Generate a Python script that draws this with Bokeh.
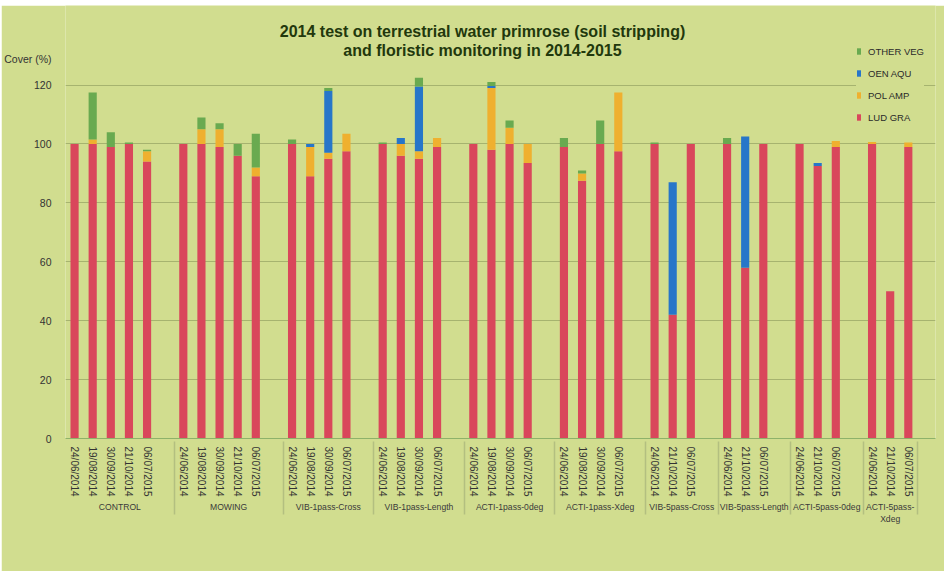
from bokeh.plotting import figure
from bokeh.models import (FactorRange, Range1d, FixedTicker, Legend, LegendItem,
                          Label, ColumnDataSource)
from bokeh.embed import file_html
from bokeh.resources import INLINE

# ---------------- data ----------------
groups = ["CONTROL", "MOWING", "VIB-1pass-Cross", "VIB-1pass-Length",
          "ACTI-1pass-0deg", "ACTI-1pass-Xdeg", "VIB-5pass-Cross",
          "VIB-5pass-Length", "ACTI-5pass-0deg", "ACTI-5pass-\nXdeg"]
dates5 = ["24/06/2014", "19/08/2014", "30/09/2014", "21/10/2014", "06/07/2015"]
dates4 = ["24/06/2014", "19/08/2014", "30/09/2014", "06/07/2015"]
dates3 = ["24/06/2014", "21/10/2014", "06/07/2015"]
group_dates = [dates5, dates5, dates4, dates4, dates4, dates4,
               dates3, dates3, dates3, dates3]

lud_gra = [100, 100, 99, 100, 94,
           100, 100, 99, 96, 89,
           100, 89, 95, 97.5,
           100, 96, 95, 99,
           100, 98, 100, 93.5,
           99, 87.5, 100, 97.5,
           100, 42, 100,
           100, 58, 100,
           100, 92.5, 99,
           100, 50, 99]
pol_amp = [0, 1.5, 0, 0, 3.5,
           0, 5, 6, 0, 3,
           0, 10, 2, 6,
           0, 4, 2.5, 3,
           0, 21, 5.5, 6.5,
           0, 2.5, 0, 20,
           0, 0, 0,
           0, 0, 0,
           0, 0, 2,
           0.7, 0, 1.5]
oen_aqu = [0, 0, 0, 0, 0,
           0, 0, 0, 0, 0,
           0, 1, 21, 0,
           0, 2, 22, 0,
           0, 0.7, 0, 0,
           0, 0, 0, 0,
           0, 45, 0,
           0, 44.5, 0,
           0, 1, 0,
           0, 0, 0]
other_veg = [0, 16, 5, 0.5, 0.5,
             0, 4, 2, 4, 11.5,
             1.5, 0, 1, 0,
             0.5, 0, 3, 0,
             0, 1.3, 2.5, 0,
             3, 1, 8, 0,
             0.5, 0, 0,
             2, 0, 0,
             0, 0, 0,
             0, 0, 0]
y_ticks = [0, 20, 40, 60, 80, 100, 120]
y_title = "Cover (%)"
y_title_pos = 129
series_names = ["LUD GRA", "POL AMP", "OEN AQU", "OTHER VEG"]
title_lines = ["2014 test on terrestrial water primrose (soil stripping)",
               "and floristic monitoring in 2014-2015"]

# ---------------- build factors ----------------
bar_x = []
factors = []
for gi, (g, ds) in enumerate(zip(groups, group_dates)):
    for d in ds:
        bar_x.append((g, d))
        factors.append((g, d))
    if gi < len(groups) - 1:
        factors.append((g, ""))   # empty slot after each group
factors.append(("", ""))          # closing slot (gives the end separator)

source = ColumnDataSource(dict(x=bar_x, lud=lud_gra, pol=pol_amp,
                               oen=oen_aqu, oth=other_veg))

BG = "#d1dd8f"
RED = "#d9475b"
YEL = "#efb02f"
BLUE = "#2776c9"
GREEN = "#69aa50"
FONT = "Liberation Sans"

p = figure(x_range=FactorRange(*factors, group_padding=0, subgroup_padding=0,
                               factor_padding=0, range_padding=0),
           y_range=Range1d(0, 147.0),
           width=943, height=566, output_backend="svg", toolbar_location=None,
           title=None, min_border_left=64, min_border_right=9,
           min_border_top=0, min_border_bottom=133)
p.margin = (5, 0, 0, 1)
p.background_fill_color = BG
p.border_fill_color = BG
p.outline_line_color = None

rs = p.vbar_stack(["lud", "pol", "oen", "oth"], x="x", width=0.45,
                  color=[RED, YEL, BLUE, GREEN], line_color=None, source=source)

# axes / grid
p.xgrid.grid_line_color = None
p.ygrid.ticker = FixedTicker(ticks=y_ticks)
p.ygrid.grid_line_color = "#a6b36f"
p.ygrid.grid_line_width = 1
p.yaxis.ticker = FixedTicker(ticks=y_ticks + [y_title_pos])
p.yaxis.major_label_overrides = {y_title_pos: y_title}
p.yaxis.axis_line_color = None
p.yaxis.major_tick_line_color = None
p.yaxis.minor_tick_line_color = None
p.yaxis.major_label_standoff = 8
p.yaxis.major_label_text_font = FONT
p.yaxis.major_label_text_font_size = "10.5px"
p.yaxis.major_label_text_color = "#333333"

xa = p.xaxis[0]
xa.major_label_orientation = "vertical"
xa.major_label_standoff = 2
xa.major_label_text_font = FONT
xa.major_label_text_font_size = "10px"
xa.major_label_text_color = "#333333"
xa.major_tick_line_color = None
xa.axis_line_color = "#8eb26a"
xa.group_text_font = FONT
xa.group_text_font_size = "8.6px"
xa.group_text_color = "#3a3a3a"
xa.group_text_font_style = "normal"
xa.separator_line_color = "#b3bf80"
xa.separator_line_width = 1.5

# legend
legend = Legend(items=[LegendItem(label=series_names[3], renderers=[rs[3]]),
                       LegendItem(label=series_names[2], renderers=[rs[2]]),
                       LegendItem(label=series_names[1], renderers=[rs[1]]),
                       LegendItem(label=series_names[0], renderers=[rs[0]])],
                location=(791, 315), orientation="vertical",
                glyph_width=5, glyph_height=8, label_height=12,
                label_standoff=7, spacing=10, padding=6, margin=0,
                background_fill_color=BG, background_fill_alpha=1.0,
                border_line_color=None,
                label_text_font=FONT,
                label_text_font_size="9.5px", label_text_color="#2a2a2a")
p.add_layout(legend, "center")

# title
for txt, yy in zip(title_lines, [406.7, 387.7]):
    p.add_layout(Label(x=417, y=yy, x_units="screen", y_units="screen", text=txt,
                       text_align="center", text_baseline="middle",
                       text_font=FONT, text_font_style="bold",
                       text_font_size="16px", text_color="#22380c"))

open("out.html", "w").write(file_html(p, INLINE))
